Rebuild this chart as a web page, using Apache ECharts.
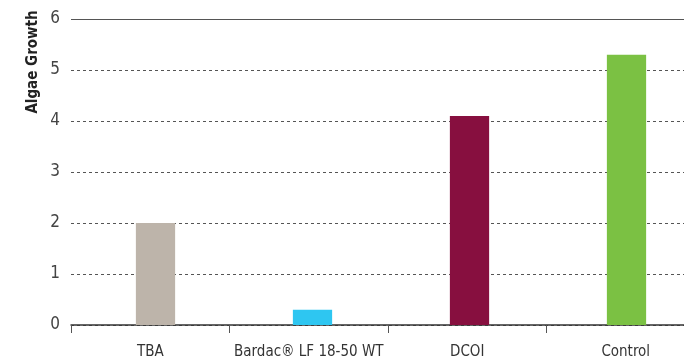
<!DOCTYPE html>
<html>
<head>
<meta charset="utf-8">
<script src="https://cdn.jsdelivr.net/npm/echarts@6/dist/echarts.min.js"></script>
<style>
  html, body { margin: 0; padding: 0; background: #fff; }
  #chart { width: 684px; height: 364px; }
</style>
</head>
<body>
<div id="chart"></div>
<script>
// 数据
var categories = ['TBA', 'Bardac\u00AE LF 18-50 WT', 'DCOI', 'Control'];
var growth = [2.0, 0.3, 4.1, 5.3];
var barColors = ['#bdb4aa', '#2ec6f1', '#870f3f', '#7bc143'];
var yTicks = [0, 1, 2, 3, 4, 5, 6];

var font = '"DejaVu Sans Condensed", "Open Sans", sans-serif';

var chart = echarts.init(document.getElementById('chart'));
chart.setOption({
    animation: false,
    // grid 0: 坐标轴和标签, grid 1: 柱子 (原图柱子略微偏右)
    grid: [{
        left: 71,
        top: 19,
        width: 634,
        bottom: 39,
        outerBoundsMode: 'none'
    }, {
        left: 77,
        top: 19,
        width: 628,
        bottom: 39,
        outerBoundsMode: 'none'
    }],
    xAxis: [{
        gridIndex: 0,
        type: 'category',
        data: categories,
        axisLine: { lineStyle: { color: '#333', width: 1.5 } },
        axisTick: { show: true, interval: 0, length: 8, lineStyle: { color: '#555' } },
        axisLabel: { interval: 0, color: '#333', fontSize: 15, fontFamily: font, margin: 20 }
    }, {
        gridIndex: 1,
        type: 'category',
        data: categories,
        show: false
    }],
    yAxis: [{
        gridIndex: 0,
        type: 'value',
        min: yTicks[0],
        max: yTicks[yTicks.length - 1],
        interval: 1,
        axisLine: { show: false },
        axisTick: { show: false },
        axisLabel: { color: '#444', fontSize: 17, fontFamily: font, margin: 11 },
        splitLine: { lineStyle: { color: '#555', type: [3, 3], width: 1 } }
    }, {
        gridIndex: 1,
        type: 'value',
        min: yTicks[0],
        max: yTicks[yTicks.length - 1],
        interval: 1,
        show: false,
        splitLine: { show: false }
    }],
    graphic: [{
        type: 'text',
        x: 33,
        y: 62,
        rotation: Math.PI / 2,
        style: {
            text: 'Algae Growth',
            fill: '#222',
            font: 'bold 15px ' + font,
            align: 'center',
            verticalAlign: 'middle'
        }
    }],
    series: [{
        type: 'bar',
        xAxisIndex: 1,
        yAxisIndex: 1,
        barWidth: '25%',
        z: 3,
        data: growth.map(function (v, i) {
            return { value: v, itemStyle: { color: barColors[i] } };
        })
    }, {
        // 顶部实线 (6)
        type: 'line',
        xAxisIndex: 0,
        yAxisIndex: 0,
        data: [],
        markLine: {
            silent: true,
            symbol: 'none',
            label: { show: false },
            lineStyle: { color: '#555', type: 'solid', width: 1 },
            data: [{ yAxis: 6 }]
        }
    }]
});
</script>
</body>
</html>
